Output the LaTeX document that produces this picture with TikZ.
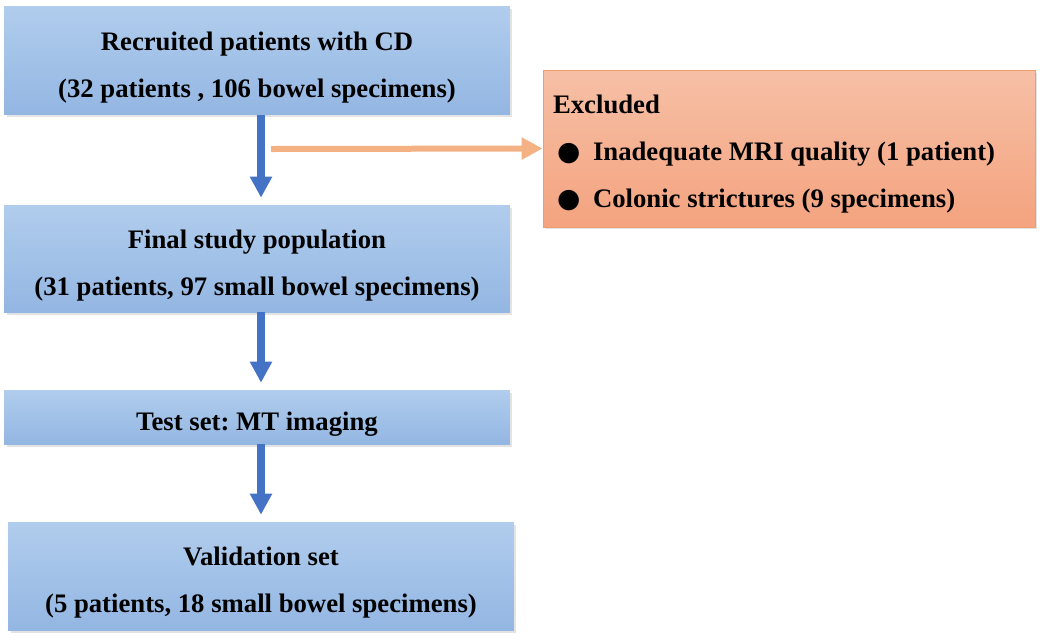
\documentclass[tikz,border=0pt]{standalone}
\usepackage{fontspec}
\setmainfont{Liberation Serif}
\newfontfamily\dotfont{DejaVu Sans}
\usetikzlibrary{arrows.meta,shadows}
\frenchspacing

\definecolor{stagetop}{HTML}{B1CDED}
\definecolor{stagebot}{HTML}{93B6E2}
\definecolor{excltop}{HTML}{F6C0A6}
\definecolor{exclbot}{HTML}{F4A37F}
\definecolor{exclline}{HTML}{F09C6C}
\definecolor{flowblue}{HTML}{4472C4}
\definecolor{sideorange}{HTML}{F4B183}

\newcommand\bul{\makebox[0.8cm][l]{\hspace{0.08cm}{\dotfont ●}}}

\tikzset{
  stage/.style={top color=stagetop,bottom color=stagebot,
    minimum width=10.12cm,text width=9.7cm,align=flush center,
    font=\fontsize{15.2pt}{26.7pt}\selectfont\bfseries,
    execute at begin node={\rule{0pt}{18.5pt}},
    drop shadow={shadow xshift=0.05cm,shadow yshift=-0.05cm,
      opacity=0.22,fill=gray}},
  excl/.style={top color=excltop,bottom color=exclbot,
    draw=exclline,line width=0.5pt,
    minimum width=9.84cm,minimum height=3.14cm,
    text width=9.44cm,inner xsep=0.2cm,align=flush left,
    font=\fontsize{15.2pt}{26.7pt}\selectfont\bfseries,
    execute at begin node={\rule{0pt}{17pt}},
    drop shadow={shadow xshift=0.05cm,shadow yshift=-0.05cm,
      opacity=0.22,fill=gray}},
  flow/.style={draw=flowblue,line width=0.16cm,
    -{Triangle[width=0.42cm,length=0.42cm]},shorten >=0.14cm},
  side/.style={draw=sideorange,line width=0.12cm,
    -{Triangle[width=0.42cm,length=0.42cm]}}
}

\begin{document}
\begin{tikzpicture}[x=0.02cm,y=-0.02cm]
\useasboundingbox (0,0) rectangle (1050,640);

\node [stage,minimum height=2.18cm] (recruit) at (257,60.5)
  {Recruited patients with CD\\(32 patients , 106 bowel specimens)};
\node [stage,minimum height=2.14cm] (final)   at (257,258.5)
  {Final study population\\(31 patients, 97 small bowel specimens)};
\node [stage,minimum height=1.08cm] (test)    at (257,417)
  {Test set: MT imaging};
\node [stage,minimum height=2.16cm] (valid)   at (261,576)
  {Validation set\\(5 patients, 18 small bowel specimens)};

\node [excl] (excluded) at (789,148.5)
  {Excluded\\
   \bul Inadequate MRI quality (1 patient)\\
   \bul Colonic strictures (9 specimens)};

\coordinate (split) at (271,149);

\draw [flow] (recruit.south -| 261,0) -- (final.north -| 261,0);
\draw [flow] (final.south   -| 261,0) -- (test.north  -| 261,0);
\draw [flow] (test.south    -| 261,0) -- (valid.north -| 261,0);
\draw [side] (split) -- (excluded.west);
\end{tikzpicture}
\end{document}
